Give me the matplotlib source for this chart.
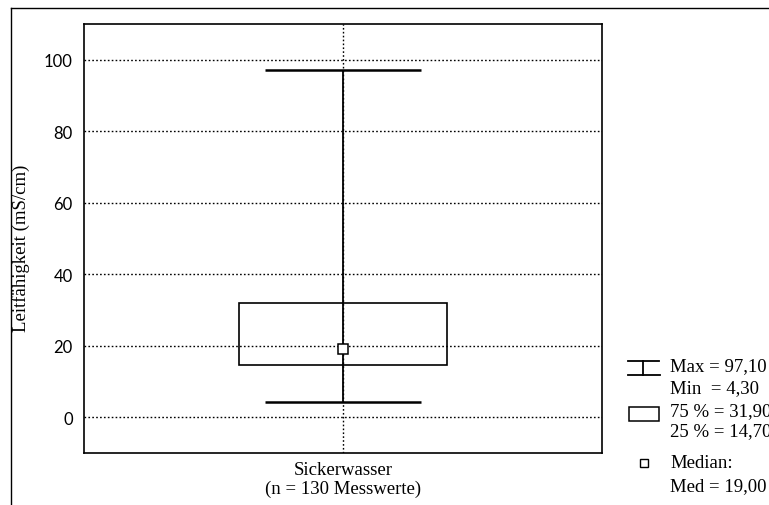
import matplotlib
matplotlib.use("Agg")
import matplotlib.pyplot as plt
from matplotlib.lines import Line2D
from matplotlib.patches import Rectangle

# Kennwerte Leitfähigkeit Sickerwasser
kategorien = ["Sickerwasser\n(n = 130 Messwerte)"]
maxima = [97.10]
minima = [4.30]
q75 = [31.90]
q25 = [14.70]
median = [19.00]

yticks = [0, 20, 40, 60, 80, 100]

serif = ["Liberation Serif", "DejaVu Serif"]
sans = ["Lato", "DejaVu Sans"]

fig = plt.figure(figsize=(7.69, 5.06), dpi=100)
ax = fig.add_axes([0.109, 0.103, 0.674, 0.848])

ax.set_xlim(0, 2)
ax.set_ylim(-10, 110)
ax.set_yticks(yticks)
ax.set_xticks([1])
ax.set_xticklabels(kategorien, fontfamily=serif, fontsize=13.5, linespacing=1.1)
for lab in ax.get_yticklabels():
    lab.set_fontfamily(sans)
    lab.set_fontsize(12)
ax.tick_params(length=0, pad=8)
ax.tick_params(axis="x", pad=6)

# Gitter gepunktet
ax.grid(True, color="black", linestyle=(0, (1.2, 1.6)), linewidth=1.0)
ax.set_axisbelow(True)
for s in ax.spines.values():
    s.set_linewidth(1.2)

ax.set_ylabel("Leitfähigkeit (mS/cm)", fontfamily=serif, fontsize=13.5)
ax.yaxis.set_label_coords(-0.103, 0.478)

for i, k in enumerate(kategorien):
    x = i + 1
    # Whisker durchgehend von Min bis Max
    ax.vlines(x, minima[i], maxima[i], color="black", linewidth=1.3, zorder=3)
    ax.hlines([minima[i], maxima[i]], x - 0.3, x + 0.3, color="black", linewidth=1.8, zorder=3)
    ax.add_patch(Rectangle((x - 0.4, q25[i]), 0.8, q75[i] - q25[i],
                           facecolor="none", edgecolor="black", linewidth=1.2, zorder=3))
    ax.plot([x], [median[i]], marker="s", markersize=6.5, markerfacecolor="white",
            markeredgecolor="black", markeredgewidth=1.1, zorder=4)

# Rahmen außen
fig.add_artist(Line2D([11 / 769, 11 / 769], [0, 1 - 9 / 506], color="black", linewidth=1.0))
fig.add_artist(Line2D([11 / 769, 1], [1 - 9 / 506, 1 - 9 / 506], color="black", linewidth=1.0))

# Legende
def fy(y):
    return 1 - y / 506

def fx(x):
    return x / 769

fig.add_artist(Line2D([fx(628), fx(659)], [fy(362), fy(362)], color="black", linewidth=1.3))
fig.add_artist(Line2D([fx(628), fx(660)], [fy(376), fy(376)], color="black", linewidth=1.3))
fig.add_artist(Line2D([fx(643), fx(643)], [fy(362), fy(376)], color="black", linewidth=1.3))
fig.add_artist(Rectangle((fx(629), fy(422)), fx(659) - fx(629), fy(408) - fy(422),
                         transform=fig.transFigure, facecolor="none", edgecolor="black", linewidth=1.1))
fig.add_artist(Line2D([fx(644)], [fy(464)], marker="s", markersize=6, markerfacecolor="white",
                      markeredgecolor="black", markeredgewidth=1.0))

legend_text = [
    (367, f"Max = {maxima[0]:.2f}".replace(".", ",")),
    (389, f"Min  = {minima[0]:.2f}".replace(".", ",")),
    (412, f"75 % = {q75[0]:.2f}".replace(".", ",")),
    (432, f"25 % = {q25[0]:.2f}".replace(".", ",")),
    (464, "Median:"),
    (487, f"Med = {median[0]:.2f}".replace(".", ",")),
]
for y, t in legend_text:
    fig.text(fx(670), fy(y), t, fontfamily=serif, fontsize=13.5, va="center", ha="left")

fig.savefig("out.png", dpi=100)
